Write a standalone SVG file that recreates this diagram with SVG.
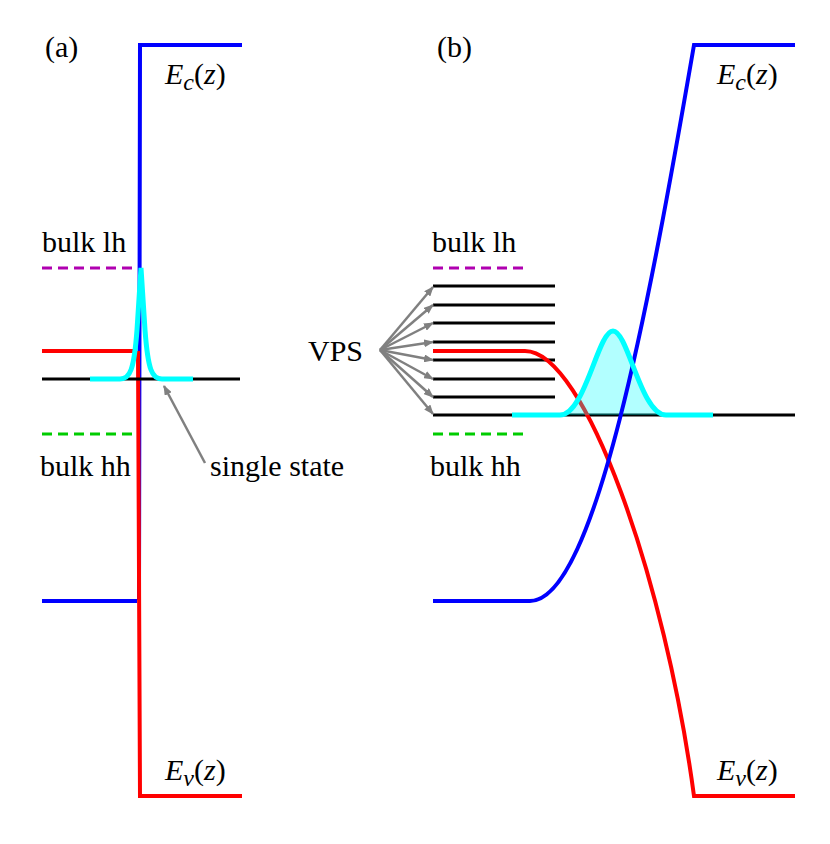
<svg xmlns="http://www.w3.org/2000/svg" width="830" height="844" viewBox="0 0 830 844">
<defs>
<style>
text{font-family:'Liberation Serif','Times New Roman','Nimbus Roman','DejaVu Serif',serif;font-size:30px;fill:#000}
.b{stroke:#00f;stroke-width:4;fill:none}
.r{stroke:#f00;stroke-width:4;fill:none}
.k{stroke:#000;stroke-width:3;fill:none}
.c{stroke:#0ff;stroke-width:5;fill:none}
.g{stroke:#808080;stroke-width:2.5;fill:none;marker-end:url(#ah)}
</style>
<marker id="ah" markerWidth="10" markerHeight="8" refX="9" refY="4" orient="auto" markerUnits="userSpaceOnUse"><path d="M0,0 L10,4 L0,8 z" fill="#808080"/></marker>
</defs>
<rect width="830" height="844" fill="#fff"/>
<g id="panel-a">
<text x="45" y="57">(a)</text>
<line x1="42" y1="268" x2="135" y2="268" stroke="#b000b0" stroke-width="3" stroke-dasharray="10,6"/>
<line x1="42" y1="434" x2="135" y2="434" stroke="#00cc00" stroke-width="3" stroke-dasharray="10,6"/>
<text x="42" y="252">bulk lh</text>
<text x="40" y="476">bulk hh</text>
<polyline class="b" points="242,45 140,45 139,600"/>
<line class="b" x1="42" y1="601" x2="137" y2="601"/>
<line class="r" x1="42" y1="351" x2="137" y2="351"/>
<polyline class="r" points="138,351 140,796 242,796"/>
<line class="k" x1="42" y1="379" x2="240" y2="379"/>
<path class="c" d="M90,379 L120,379 C130,379 134,370 137,330 L141,268 L145,330 C148,370 152,379 162,379 L193,379"/>
<line class="g" x1="205" y1="463" x2="164" y2="386"/>
<text x="210" y="476">single state</text>
<text x="165" y="84"><tspan font-style="italic">E</tspan><tspan font-style="italic" font-size="24" dy="6">c</tspan><tspan dy="-6">(</tspan><tspan font-style="italic">z</tspan>)</text>
<text x="165" y="780"><tspan font-style="italic">E</tspan><tspan font-style="italic" font-size="24" dy="6">v</tspan><tspan dy="-6">(</tspan><tspan font-style="italic">z</tspan>)</text>
</g>
<g id="panel-b">
<text x="437" y="57">(b)</text>
<line x1="433" y1="268" x2="525" y2="268" stroke="#b000b0" stroke-width="3" stroke-dasharray="10,6"/>
<line x1="433" y1="434" x2="525" y2="434" stroke="#00cc00" stroke-width="3" stroke-dasharray="10,6"/>
<text x="432" y="252">bulk lh</text>
<text x="430" y="476">bulk hh</text>
<g class="k">
<line x1="433" y1="286" x2="555" y2="286"/>
<line x1="433" y1="305" x2="555" y2="305"/>
<line x1="433" y1="323" x2="555" y2="323"/>
<line x1="433" y1="342" x2="555" y2="342"/>
<line x1="433" y1="360" x2="555" y2="360"/>
<line x1="433" y1="379" x2="555" y2="379"/>
<line x1="433" y1="397" x2="555" y2="397"/>
<line x1="433" y1="415" x2="795" y2="415"/>
</g>
<path class="r" d="M433,351 L525,351 C585,351 665,580 694,796 L795,796"/>
<path d="M512,415 L560,415 C585,415 598,331 613,331 C628,331 641,415 666,415 L713,415 Z" fill="#0ff" fill-opacity="0.3"/>
<path class="b" d="M433,601 L530,601 C595,601 650,300 694,45 L795,45"/>
<path class="c" d="M512,415 L560,415 C585,415 598,331 613,331 C628,331 641,415 666,415 L713,415"/>
<g class="g">
<line x1="380" y1="350" x2="433" y2="287"/>
<line x1="380" y1="350" x2="433" y2="305"/>
<line x1="380" y1="350" x2="433" y2="323"/>
<line x1="380" y1="350" x2="433" y2="342"/>
<line x1="380" y1="350" x2="433" y2="360"/>
<line x1="380" y1="350" x2="433" y2="379"/>
<line x1="380" y1="350" x2="433" y2="397"/>
<line x1="380" y1="350" x2="433" y2="414"/>
</g>
<text x="308" y="361">VPS</text>
<text x="717" y="84"><tspan font-style="italic">E</tspan><tspan font-style="italic" font-size="24" dy="6">c</tspan><tspan dy="-6">(</tspan><tspan font-style="italic">z</tspan>)</text>
<text x="717" y="780"><tspan font-style="italic">E</tspan><tspan font-style="italic" font-size="24" dy="6">v</tspan><tspan dy="-6">(</tspan><tspan font-style="italic">z</tspan>)</text>
</g>
</svg>
